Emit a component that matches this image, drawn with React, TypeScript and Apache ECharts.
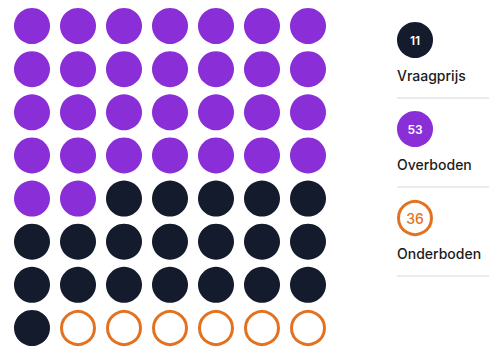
import React, { useEffect, useRef } from "react";
import * as echarts from "echarts";

// Legend entries
const legendNames = ["Vraagprijs", "Overboden", "Onderboden"];
const legendValues = [11, 53, 36];

// Waffle cells, in fill order (row by row, left to right)
const waffleNames = ["Overboden", "Vraagprijs", "Onderboden"];
const waffleCounts = [30, 20, 6];

const COLS = 7;
const ROWS = 8;

const colors: Record<string, string> = {
  Vraagprijs: "#141b2d",
  Overboden: "#8a2ed8",
  Onderboden: "#e2721f",
};

export default function App() {
  const ref = useRef<HTMLDivElement>(null);

  useEffect(() => {
    document.body.style.margin = "0";
    if (!ref.current) return;
    const chart = echarts.init(ref.current, undefined, { renderer: "svg" });

    let idx = 0;
    const series = waffleNames.map((name, si) => {
      const data: number[][] = [];
      for (let k = 0; k < waffleCounts[si]; k++) {
        data.push([idx % COLS, Math.floor(idx / COLS)]);
        idx++;
      }
      const ring = name === "Onderboden";
      return {
        type: "scatter",
        name,
        data,
        symbol: "circle",
        symbolSize: ring ? 33 : 36,
        itemStyle: ring
          ? { color: "#ffffff", borderColor: colors[name], borderWidth: 3, opacity: 1 }
          : { color: colors[name], opacity: 1 },
        silent: true,
      };
    });

    const graphic: any[] = [];
    const legendX = 397;
    const firstY = 40;
    const step = 89;
    legendNames.forEach((name, i) => {
      const cy = firstY + i * step;
      const ring = name === "Onderboden";
      graphic.push({
        type: "circle",
        shape: { cx: legendX + 18, cy, r: ring ? 16.5 : 18 },
        style: ring
          ? { fill: "#ffffff", stroke: colors[name], lineWidth: 3 }
          : { fill: colors[name] },
      });
      graphic.push({
        type: "text",
        x: legendX + 18,
        y: cy,
        style: {
          text: String(legendValues[i]),
          fill: ring ? colors[name] : "#ffffff",
          font: `${ring ? 500 : 600} ${ring ? 14 : 12}px Inter`,
          align: "center",
          verticalAlign: "middle",
        },
      });
      graphic.push({
        type: "text",
        x: legendX,
        y: cy + 35,
        style: {
          text: name,
          fill: "#1c1c1c",
          font: "500 14px Inter",
          align: "left",
          verticalAlign: "middle",
        },
      });
      graphic.push({
        type: "line",
        shape: { x1: legendX, y1: cy + 58, x2: 489, y2: cy + 58 },
        style: { stroke: "#e4e4e4", lineWidth: 1.5 },
      });
    });

    chart.setOption({
      animation: false,
      grid: { left: 32, right: 181, top: 26, bottom: 22 },
      xAxis: { type: "value", min: 0, max: COLS - 1, show: false },
      yAxis: { type: "value", min: 0, max: ROWS - 1, inverse: true, show: false },
      series,
      graphic,
    });

    return () => chart.dispose();
  }, []);

  return <div ref={ref} style={{ width: 489, height: 350 }} />;
}
